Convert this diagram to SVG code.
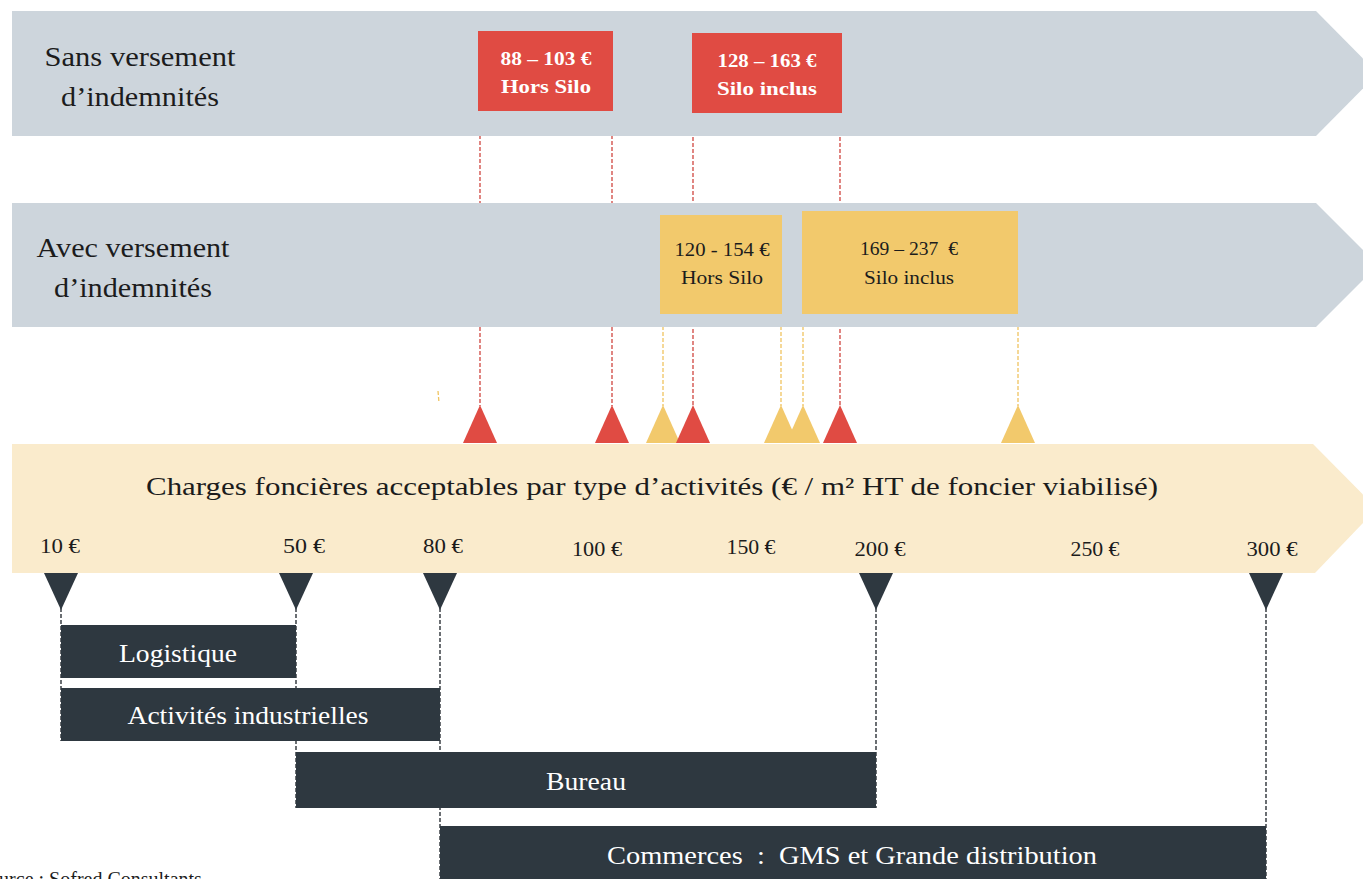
<svg xmlns="http://www.w3.org/2000/svg" width="1363" height="879" viewBox="0 0 1363 879">
<style>
text{font-family:"Liberation Serif","DejaVu Serif",serif;}
.lbl{fill:#1c1c1c;}
.side{font-size:28px;text-anchor:middle;}
.ax{font-size:20px;text-anchor:middle;}
.boxt{font-size:19px;font-weight:bold;text-anchor:middle;}
.boxn{font-size:19px;text-anchor:middle;fill:#1c1c1c;}
.white{fill:#ffffff;}
.bart{font-size:26px;fill:#ffffff;text-anchor:middle;}
.rd{stroke:#d0463f;stroke-width:1.3;stroke-dasharray:4 2;fill:none;}
.yd{stroke:#f0c460;stroke-width:1.3;stroke-dasharray:4 2;fill:none;}
.kd{stroke:#1c2228;stroke-width:1.3;stroke-dasharray:4 2;fill:none;}
.redbox{fill:#e04b43;}
.yelbox{fill:#f2c96c;}
.bar{fill:#2e3840;}
</style>
<rect width="1363" height="879" fill="#ffffff"/>
<g id="connectors">
<line class="rd" x1="480" y1="111" x2="480" y2="406"/>
<line class="rd" x1="612" y1="111" x2="612" y2="406"/>
<line class="rd" x1="693" y1="113" x2="693" y2="406"/>
<line class="rd" x1="840" y1="113" x2="840" y2="406"/>
<line class="yd" x1="663" y1="314" x2="663" y2="406"/>
<line class="yd" x1="781" y1="314" x2="781" y2="406"/>
<line class="yd" x1="803" y1="314" x2="803" y2="406"/>
<line class="yd" x1="1018" y1="314" x2="1018" y2="406"/>
<line class="yd" x1="438" y1="391" x2="439" y2="403"/>
<line class="kd" x1="61" y1="608" x2="61" y2="741"/>
<line class="kd" x1="296" y1="608" x2="296" y2="808"/>
<line class="kd" x1="440" y1="608" x2="440" y2="879"/>
<line class="kd" x1="876" y1="608" x2="876" y2="808"/>
<line class="kd" x1="1266" y1="608" x2="1266" y2="879"/>
</g>
<g id="banner-sans">
<polygon points="12,11 1316,11 1378,73.5 1316,136 12,136" fill="#cdd5dc"/>
<text class="lbl side" x="140" y="66" textLength="191" lengthAdjust="spacingAndGlyphs">Sans versement</text>
<text class="lbl side" x="140" y="106" textLength="158" lengthAdjust="spacingAndGlyphs">d’indemnités</text>
</g>
<g id="banner-avec">
<polygon points="12,203 1316,203 1378,265 1316,327 12,327" fill="#cdd5dc"/>
<text class="lbl side" x="133" y="257" textLength="193" lengthAdjust="spacingAndGlyphs">Avec versement</text>
<text class="lbl side" x="133" y="297" textLength="158" lengthAdjust="spacingAndGlyphs">d’indemnités</text>
</g>
<g id="box-88-103">
<rect class="redbox" x="478" y="31" width="135" height="80"/>
<text class="boxt white" x="546" y="65" textLength="91" lengthAdjust="spacingAndGlyphs">88 – 103 €</text>
<text class="boxt white" x="546" y="93" textLength="90" lengthAdjust="spacingAndGlyphs">Hors Silo</text>
</g>
<g id="box-128-163">
<rect class="redbox" x="692" y="33" width="150" height="80"/>
<text class="boxt white" x="767" y="67" textLength="99" lengthAdjust="spacingAndGlyphs">128 – 163 €</text>
<text class="boxt white" x="767" y="95" textLength="100" lengthAdjust="spacingAndGlyphs">Silo inclus</text>
</g>
<g id="box-120-154">
<rect class="yelbox" x="660" y="215" width="122" height="99"/>
<text class="boxn" x="722" y="256" textLength="95" lengthAdjust="spacingAndGlyphs">120 - 154 €</text>
<text class="boxn" x="722" y="284" textLength="82" lengthAdjust="spacingAndGlyphs">Hors Silo</text>
</g>
<g id="box-169-237">
<rect class="yelbox" x="802" y="211" width="216" height="103"/>
<text class="boxn" x="909" y="255" xml:space="preserve" textLength="98" lengthAdjust="spacingAndGlyphs">169 – 237  €</text>
<text class="boxn" x="909" y="284" textLength="90" lengthAdjust="spacingAndGlyphs">Silo inclus</text>
</g>
<g id="markers-top">
<polygon points="480,405 463,443 497,443" fill="#e04b43"/>
<polygon points="612,405 595,443 629,443" fill="#e04b43"/>
<polygon points="663,405 646,443 680,443" fill="#f2c96c"/>
<polygon points="693,405 676,443 710,443" fill="#e04b43"/>
<polygon points="781,405 764,443 798,443" fill="#f2c96c"/>
<polygon points="803,405 786,443 820,443" fill="#f2c96c"/>
<polygon points="840,405 823,443 857,443" fill="#e04b43"/>
<polygon points="1018,405 1001,443 1035,443" fill="#f2c96c"/>
</g>
<g id="axis">
<polygon points="12,444 1313,444 1377,508.5 1315,573 12,573" fill="#faebcc"/>
<text class="lbl" x="652" y="495" font-size="25" text-anchor="middle" textLength="1012" lengthAdjust="spacingAndGlyphs">Charges foncières acceptables par type d’activités (€ / m² HT de foncier viabilisé)</text>
<text class="lbl ax" x="60" y="553" textLength="40" lengthAdjust="spacingAndGlyphs">10 €</text>
<text class="lbl ax" x="304" y="553" textLength="42" lengthAdjust="spacingAndGlyphs">50 €</text>
<text class="lbl ax" x="443" y="553" textLength="40" lengthAdjust="spacingAndGlyphs">80 €</text>
<text class="lbl ax" x="597" y="556" textLength="50" lengthAdjust="spacingAndGlyphs">100 €</text>
<text class="lbl ax" x="751" y="554" textLength="49" lengthAdjust="spacingAndGlyphs">150 €</text>
<text class="lbl ax" x="880" y="556" textLength="51" lengthAdjust="spacingAndGlyphs">200 €</text>
<text class="lbl ax" x="1095" y="556" textLength="49" lengthAdjust="spacingAndGlyphs">250 €</text>
<text class="lbl ax" x="1272" y="556" textLength="51" lengthAdjust="spacingAndGlyphs">300 €</text>
</g>
<g id="markers-bottom">
<polygon points="44,573 78,573 61,610" fill="#2e3840"/>
<polygon points="279,573 313,573 296,610" fill="#2e3840"/>
<polygon points="423,573 457,573 440,610" fill="#2e3840"/>
<polygon points="859,573 893,573 876,610" fill="#2e3840"/>
<polygon points="1249,573 1283,573 1266,610" fill="#2e3840"/>
</g>
<g id="bar-logistique">
<rect class="bar" x="61" y="625" width="235" height="53"/>
<text class="bart" x="178" y="662" textLength="118" lengthAdjust="spacingAndGlyphs">Logistique</text>
</g>
<g id="bar-industrielles">
<rect class="bar" x="61" y="688" width="379" height="53"/>
<text class="bart" x="248" y="724" textLength="241" lengthAdjust="spacingAndGlyphs">Activités industrielles</text>
</g>
<g id="bar-bureau">
<rect class="bar" x="296" y="752" width="580" height="56"/>
<text class="bart" x="586" y="790" textLength="80" lengthAdjust="spacingAndGlyphs">Bureau</text>
</g>
<g id="bar-commerces">
<rect class="bar" x="440" y="826" width="826" height="60"/>
<text class="bart" x="852" y="864" xml:space="preserve" textLength="490" lengthAdjust="spacingAndGlyphs">Commerces  :  GMS et Grande distribution</text>
</g>
<text class="lbl" x="-22" y="886" font-size="20">Source : Sofred Consultants</text>
</svg>
